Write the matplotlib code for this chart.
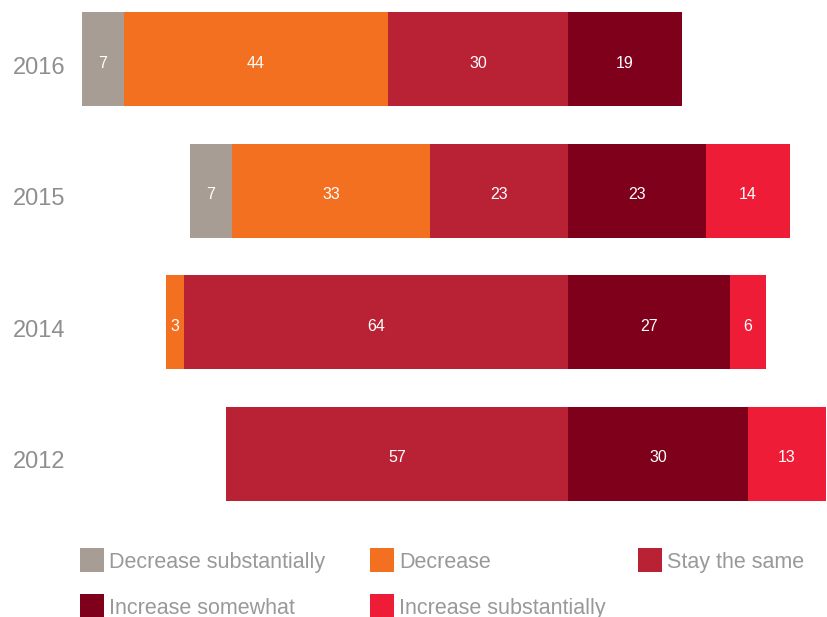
import matplotlib.pyplot as plt
from matplotlib.patches import Rectangle
from matplotlib.transforms import ScaledTranslation
import numpy as np

years = ["2016", "2015", "2014", "2012"]
decrease_sub = [7, 7, 0, 0]
decrease = [44, 33, 3, 0]
stay_same = [30, 23, 64, 57]
increase_some = [19, 23, 27, 30]
increase_sub = [0, 14, 6, 13]

series = ["Decrease substantially", "Decrease", "Stay the same",
          "Increase somewhat", "Increase substantially"]
colors = ["#A89D94", "#F37021", "#B82234", "#7E001A", "#EE1C37"]

plt.rcParams['font.family'] = ['Liberation Sans', 'DejaVu Sans']

fig = plt.figure(figsize=(8.28, 6.17), dpi=100)
ax = fig.add_axes([82 / 828, 1 - 501 / 617, 746 / 828, 489 / 617])

y = np.arange(len(years))
bar_h = 0.715

# negatives sit left of zero so every bar pivots on the stay/increase boundary
left_parts = [decrease_sub, decrease, stay_same]
right_parts = [increase_some, increase_sub]
neg_total = np.sum(left_parts, axis=0)

down = lambda px: ScaledTranslation(0, -px / 100, fig.dpi_scale_trans)

start = -neg_total.astype(float)
values_all = left_parts + right_parts
for vals, col in zip(values_all, colors):
    vals = np.array(vals, dtype=float)
    ax.barh(y, vals, left=start, height=bar_h, color=col, linewidth=0)
    for yi, s, v in zip(y, start, vals):
        if v > 0:
            ax.text(s + v / 2, yi, f"{int(v)}", ha='center', va='center',
                    color='white', fontsize=11.5,
                    transform=ax.transData + down(4))
    start = start + vals

ax.set_xlim(-81, 43.33)
ax.set_ylim(len(years) - 1 + bar_h / 2, -bar_h / 2)
ax.set_yticks(y)
ax.set_yticklabels(years, fontsize=17, color='#8F8F8F')
ax.tick_params(axis='y', length=0, pad=12)
for lbl in ax.get_yticklabels():
    lbl.set_transform(lbl.get_transform() + down(6))
ax.set_xticks([])
for sp in ax.spines.values():
    sp.set_visible(False)

# legend laid out in two rows beneath the bars
legend_pos = [(80, 560), (370, 560), (638, 560), (80, 606), (370, 606)]
W, H = 828, 617
for (px, py), lab, col in zip(legend_pos, series, colors):
    fig.patches.append(Rectangle((px / W, 1 - (py + 12) / H), 24 / W, 24 / H,
                                 transform=fig.transFigure, color=col,
                                 linewidth=0))
    fig.text((px + 29) / W, 1 - (py + 2.5) / H, lab, ha='left', va='center',
             fontsize=15.5, color='#999999')

fig.savefig("out.png", dpi=100)
